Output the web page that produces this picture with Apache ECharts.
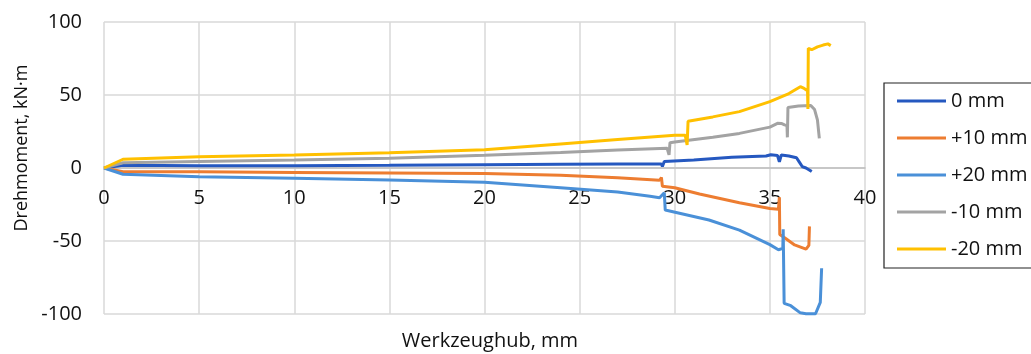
<!DOCTYPE html>
<html><head><meta charset="utf-8">
<script src="https://cdn.jsdelivr.net/npm/echarts@6/dist/echarts.min.js"></script>
<style>html,body{margin:0;padding:0;background:#fff}#c{width:1031px;height:354px}</style>
</head><body><div id="c"></div>
<script>
const seriesNames = ['0 mm', '+10 mm', '+20 mm', '-10 mm', '-20 mm'];
const seriesColors = ['#2558C0', '#ED7D31', '#4A90D8', '#A3A3A3', '#FFC000'];
const xTitle = 'Werkzeughub, mm';
const yTitle = 'Drehmoment, kN·m';

const d0 = [[0,0],[1,1.8],[5,1.6],[10,1.6],[15,1.8],[20,2.2],[24,2.5],[27,2.7],[29.3,2.8],[29.35,1.0],[29.45,4.5],[31,5.5],[33,7.3],[34.8,8.2],[35.05,9.1],[35.4,8.6],[35.5,4.3],[35.6,8.9],[36.0,8.2],[36.4,7.0],[36.55,4.0],[36.7,1.0],[36.9,0],[37.2,-2.4]];
const d10 = [[0,0],[1,-2.5],[5,-2.6],[10,-3.0],[15,-3.4],[20,-3.8],[24,-5.0],[27,-6.6],[29.2,-8.4],[29.3,-6.5],[29.35,-12.5],[30,-13.5],[31.3,-17.8],[33.4,-23.8],[35,-27.8],[35.45,-28.3],[35.5,-20],[35.52,-45.5],[35.85,-48.5],[36.3,-52.7],[36.9,-55.6],[37.05,-53],[37.08,-40]];
const d20 = [[0,0],[1,-4.3],[5,-6],[10,-7.1],[15,-8.2],[20,-9.8],[24,-13.6],[27,-16.5],[28.7,-19.4],[29.2,-20.4],[29.45,-17],[29.5,-28.8],[31.8,-35.6],[33.4,-42.5],[35,-52.5],[35.45,-56],[35.68,-55],[35.7,-42],[35.75,-92.7],[36.1,-94.3],[36.6,-99.2],[36.9,-99.8],[37.4,-99.8],[37.65,-92],[37.72,-68.7]];
const dm10 = [[0,0],[1,3.6],[5,4.5],[10,5.5],[15,6.6],[20,8.8],[24,10.6],[27,12.3],[29.6,13.5],[29.7,9],[29.75,17.3],[30,17.8],[32,21.0],[33.4,23.7],[35,28.0],[35.4,30.6],[35.6,30.5],[35.77,29.5],[35.9,29],[35.92,21],[35.95,41.5],[36.5,42.5],[37.15,42.8],[37.35,40],[37.5,33],[37.6,20.3]];
const dm20 = [[0,0],[1,6],[5,7.7],[10,8.9],[15,10.5],[20,12.5],[24,16.5],[27,19.5],[30,22.5],[30.55,22.5],[30.65,15.8],[30.7,32],[32,35],[33.4,38.6],[35,45.5],[36,51],[36.6,55.7],[36.8,54.5],[36.98,53],[37.0,40.4],[37.02,82],[37.2,81],[37.5,83],[37.8,84.2],[38.05,85],[38.2,83.8]];
const seriesData = [d0, d10, d20, dm10, dm20];

const chart = echarts.init(document.getElementById('c'), null, {renderer: 'canvas'});
const font = 'Open Sans';
const gridTop = 22, gridBottom = 40, plotH = 354 - gridTop - gridBottom;
chart.setOption({
  animation: false,
  backgroundColor: '#fff',
  textStyle: {fontFamily: font},
  grid: {left: 104, right: 166, top: gridTop, bottom: gridBottom, containLabel: false},
  xAxis: [{
    type: 'value', min: 0, max: 40, interval: 5,
    axisLine: {show: false},
    axisTick: {show: false},
    axisLabel: {show: false},
    splitLine: {show: true, lineStyle: {color: '#D9D9D9', width: 1.5}}
  }, {
    type: 'value', min: 0, max: 40, interval: 5, position: 'bottom',
    offset: -plotH / 2,
    axisLine: {show: true, onZero: false, lineStyle: {color: '#BFBFBF', width: 1.5}},
    axisTick: {show: false},
    axisLabel: {fontSize: 20, color: '#111', margin: 20, fontFamily: font},
    splitLine: {show: false}
  }],
  yAxis: {
    type: 'value', min: -100, max: 100, interval: 50,
    axisLine: {show: false},
    axisTick: {show: false},
    axisLabel: {fontSize: 20, color: '#111', margin: 22, fontFamily: font},
    splitLine: {show: true, lineStyle: {color: '#D9D9D9', width: 1.5}}
  },
  legend: {
    orient: 'vertical', left: 884, top: 83,
    data: seriesNames,
    itemWidth: 49, itemHeight: 20, itemGap: 17,
    padding: [8, 40, 9, 13],
    borderColor: '#222', borderWidth: 1.2,
    textStyle: {fontSize: 20, color: '#111', fontFamily: font, lineHeight: 20},
    icon: 'path://M0,8.5 L49,8.5 L49,11.5 L0,11.5 Z'
  },
  graphic: [
    {type: 'text', x: 490, y: 341, style: {text: xTitle, fontSize: 20, fontFamily: font, fill: '#111', align: 'center', verticalAlign: 'middle'}},
    {type: 'text', x: 22, y: 148, rotation: Math.PI/2, style: {text: yTitle, fontSize: 18, fontFamily: font, fill: '#111', align: 'center', verticalAlign: 'middle'}}
  ],
  series: seriesNames.map((n, i) => ({
    name: n, type: 'line', data: seriesData[i], showSymbol: false, symbol: 'none',
    color: seriesColors[i],
    lineStyle: {color: seriesColors[i], width: 3},
    clip: false
  }))
});
</script></body></html>
